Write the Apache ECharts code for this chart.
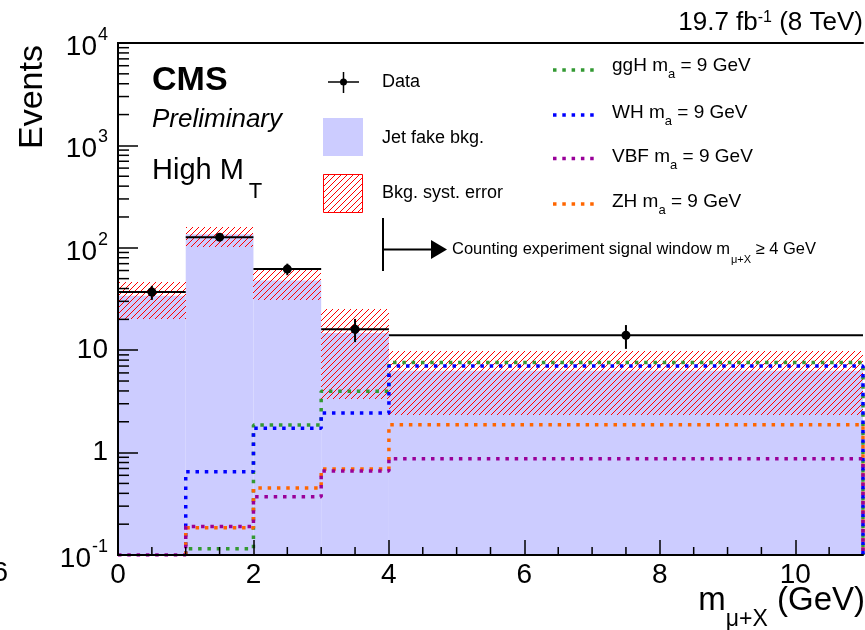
<!DOCTYPE html>
<html>
<head>
<meta charset="utf-8">
<script src="https://cdn.jsdelivr.net/npm/echarts@6/dist/echarts.min.js"></script>
<style>
  html, body { margin: 0; padding: 0; background: #fff; }
  #main { width: 865px; height: 630px; }
</style>
</head>
<body>
<div id="main"></div>
<script>
// bins in m(mu+X), GeV
var binEdges = [0, 1, 2, 3, 4, 11];

// observed data and its error bar
var dataVals = [37, 127, 62, 16, 14];
var dataLo = [31, 116, 54, 12, 10.3];
var dataHi = [42.5, 139, 70, 20.2, 17.6];

// jet fake background and its syst. band
var bkgVals = [34, 136, 48, 14.7, 6.3];
var bkgErrLo = [20, 102, 31, 3.35, 2.35];
var bkgErrHi = [46, 160, 62, 25, 9.8];

// signal expectations, m_a = 9 GeV
var ggH = [null, 0.115, 1.86, 3.97, 7.6];
var WH = [null, 0.65, 1.73, 2.44, 7.0];
var ZH = [null, 0.185, 0.45, 0.69, 1.87];
var VBF = [0.1, 0.19, 0.37, 0.66, 0.87];

var FONT = 'Liberation Sans, Arial, Helvetica, sans-serif';
var YMIN = 0.1;

// ROOT-like hatch: one pure red pixel per row on a 6px tile
var hc = document.createElement('canvas');
hc.width = 6; hc.height = 6;
var hctx = hc.getContext('2d');
var img = hctx.createImageData(6, 6);
for (var i = 0; i < 6; i++) {
  var o = ((5 - i) * 6 + i) * 4;
  img.data[o] = 255; img.data[o + 1] = 0; img.data[o + 2] = 0; img.data[o + 3] = 255;
}
hctx.putImageData(img, 0, 0);
var hatch = { image: hc, repeat: 'repeat' };

function stepPoints(vals) {
  var pts = [];
  var i0 = 0;
  while (vals[i0] == null) i0++;
  pts.push([binEdges[i0], YMIN]);
  for (var i = i0; i < vals.length; i++) pts.push([binEdges[i], vals[i]]);
  var last = binEdges[binEdges.length - 1];
  pts.push([last, vals[vals.length - 1]]);
  pts.push([last, YMIN]);
  return pts;
}

var bkgData = bkgVals.map(function (v, i) { return [binEdges[i], binEdges[i + 1], v]; });
var bandData = bkgErrLo.map(function (v, i) { return [binEdges[i], binEdges[i + 1], v, bkgErrHi[i]]; });
var obsData = dataVals.map(function (v, i) { return [binEdges[i], binEdges[i + 1], v, dataLo[i], dataHi[i]]; });

// minor ticks (ROOT style)
var yMinor = [];
for (var k = -1; k < 4; k++) for (var m = 2; m < 10; m++) yMinor.push([0, m * Math.pow(10, k)]);
var xMinor = [];
for (var x = 0.5; x < 11; x += 0.5) if (x % 2 !== 0) xMinor.push([x, YMIN]);

function sig(name, vals, color) {
  return {
    name: name, type: 'line', step: 'end', data: stepPoints(vals),
    showSymbol: false, symbol: 'none', silent: true, z: 4,
    lineStyle: { color: color, width: 3.5, type: [3.5, 5.8] }
  };
}

var chartDom = document.getElementById('main');
var myChart = echarts.init(chartDom);
var option;

option = {
  animation: false,
  grid: { left: 118, right: 2, top: 43, bottom: 75 },
  xAxis: [{
    type: 'value', min: 0, max: 11, interval: 2, z: 10,
    axisLine: { show: true, onZero: false, lineStyle: { color: '#000', width: 2 } },
    axisTick: { show: true, inside: true, length: 15, lineStyle: { color: '#000', width: 1.5 } },
    axisLabel: { color: '#000', fontSize: 28, fontFamily: FONT, margin: 6, showMaxLabel: false },
    splitLine: { show: false }
  }, {
    type: 'value', min: 0, max: 11, position: 'top', z: 10,
    axisLine: { show: true, onZero: false, lineStyle: { color: '#000', width: 2 } },
    axisTick: { show: false }, axisLabel: { show: false }, splitLine: { show: false }
  }],
  yAxis: [{
    type: 'log', logBase: 10, min: 0.1, max: 10000, z: 10,
    axisLine: { show: true, lineStyle: { color: '#000', width: 2 } },
    axisTick: { show: true, inside: true, length: 20, lineStyle: { color: '#000', width: 1.5 } },
    axisLabel: {
      color: '#000', fontFamily: FONT, margin: 10,
      formatter: function (v) {
        var e = Math.round(Math.log10(v));
        if (e === 0) return '{p|1}';
        if (e === 1) return '{p|10}';
        return '{b|10}{s|' + e + '}';
      },
      rich: {
        p: { fontSize: 28, fontFamily: FONT, color: '#000' },
        b: { fontSize: 28, fontFamily: FONT, color: '#000', padding: [8, 0, 0, 0] },
        s: { fontSize: 18, fontFamily: FONT, color: '#000', padding: [0, 0, 16, 1] }
      }
    },
    splitLine: { show: false }
  }, {
    type: 'log', logBase: 10, min: 0.1, max: 10000, position: 'right', z: 10,
    axisLine: { show: true, lineStyle: { color: '#000', width: 2 } },
    axisTick: { show: false }, axisLabel: { show: false }, splitLine: { show: false }
  }],
  series: [
    {
      name: 'Jet fake bkg.', type: 'custom', data: bkgData, z: 1, silent: true,
      encode: { x: [0, 1], y: 2 },
      renderItem: function (params, api) {
        var a = api.coord([api.value(0), api.value(2)]);
        var b = api.coord([api.value(1), YMIN]);
        return { type: 'rect', shape: { x: a[0], y: a[1], width: b[0] - a[0], height: b[1] - a[1] },
          style: { fill: '#ccccff' } };
      }
    },
    {
      name: 'Bkg. syst. error', type: 'custom', data: bandData, z: 2, silent: true,
      encode: { x: [0, 1], y: [2, 3] },
      renderItem: function (params, api) {
        var a = api.coord([api.value(0), api.value(3)]);
        var b = api.coord([api.value(1), api.value(2)]);
        return { type: 'rect', shape: { x: Math.round(a[0]), y: Math.round(a[1]),
          width: Math.round(b[0]) - Math.round(a[0]), height: Math.round(b[1]) - Math.round(a[1]) },
          style: { fill: hatch } };
      }
    },
    sig('ggH', ggH, '#339933'),
    sig('WH', WH, '#0000ff'),
    sig('ZH', ZH, '#ff6600'),
    sig('VBF', VBF, '#990099'),
    {
      name: 'Data', type: 'custom', data: obsData, z: 6, silent: true,
      encode: { x: [0, 1], y: [2, 3, 4] },
      renderItem: function (params, api) {
        var x0 = api.value(0), x1 = api.value(1), v = api.value(2);
        var xc = (x0 + x1) / 2;
        var pl = api.coord([x0, v]), pr = api.coord([x1, v]), pc = api.coord([xc, v]);
        var plo = api.coord([xc, api.value(3)]), phi = api.coord([xc, api.value(4)]);
        return { type: 'group', children: [
          { type: 'line', shape: { x1: pl[0], y1: pl[1], x2: pr[0], y2: pr[1] }, style: { stroke: '#000', lineWidth: 2 } },
          { type: 'line', shape: { x1: plo[0], y1: plo[1], x2: phi[0], y2: phi[1] }, style: { stroke: '#000', lineWidth: 2 } },
          { type: 'circle', shape: { cx: pc[0], cy: pc[1], r: 4.5 }, style: { fill: '#000' } }
        ] };
      }
    },
    {
      type: 'custom', data: yMinor, z: 10, silent: true,
      renderItem: function (params, api) {
        var p = api.coord([0, api.value(1)]);
        return { type: 'line', shape: { x1: p[0], y1: p[1], x2: p[0] + 11, y2: p[1] }, style: { stroke: '#000', lineWidth: 1.5 } };
      }
    },
    {
      type: 'custom', data: xMinor, z: 10, silent: true,
      renderItem: function (params, api) {
        var p = api.coord([api.value(0), YMIN]);
        return { type: 'line', shape: { x1: p[0], y1: p[1], x2: p[0], y2: p[1] - 8 }, style: { stroke: '#000', lineWidth: 1.5 } };
      }
    }
  ],
  graphic: [
    { type: 'text', x: 33, y: 97, rotation: Math.PI / 2,
      style: { text: 'Events', fontSize: 34, fontFamily: FONT, fill: '#000', align: 'center', verticalAlign: 'middle' } },
    { type: 'text', x: 863, y: 23,
      style: { text: '{a|19.7 fb}{s|-1}{a| (8 TeV)}', align: 'right', verticalAlign: 'middle',
        rich: { a: { fontSize: 26, fontFamily: FONT, fill: '#000' },
                s: { fontSize: 16, fontFamily: FONT, fill: '#000', padding: [0, 0, 11, 0] } } } },
    { type: 'text', x: 865, y: 601,
      style: { text: '{a|m}{s|\u03bc+X}{a| (GeV)}', align: 'right', verticalAlign: 'middle',
        rich: { a: { fontSize: 33, fontFamily: FONT, fill: '#000' },
                s: { fontSize: 23, fontFamily: FONT, fill: '#000', padding: [38, 0, 0, 0] } } } },
    { type: 'text', x: 8, y: 573,
      style: { text: '6', fontSize: 28, fontFamily: FONT, fill: '#000', align: 'right', verticalAlign: 'middle' } },
    { type: 'text', x: 152, y: 81,
      style: { text: 'CMS', fontSize: 34, fontWeight: 'bold', fontFamily: FONT, fill: '#000', verticalAlign: 'middle' } },
    { type: 'text', x: 152, y: 120,
      style: { text: 'Preliminary', fontSize: 26, fontStyle: 'italic', fontFamily: FONT, fill: '#000', verticalAlign: 'middle' } },
    { type: 'text', x: 152, y: 171,
      style: { text: '{a|High M}{s|T}', verticalAlign: 'middle',
        rich: { a: { fontSize: 29, fontFamily: FONT, fill: '#000' },
                s: { fontSize: 22, fontFamily: FONT, fill: '#000', padding: [42, 0, 0, 5] } } } },

    // legend, left column
    { type: 'line', shape: { x1: 328, y1: 82, x2: 359, y2: 82 }, style: { stroke: '#000', lineWidth: 1.5 } },
    { type: 'line', shape: { x1: 343.5, y1: 72, x2: 343.5, y2: 93 }, style: { stroke: '#000', lineWidth: 1.5 } },
    { type: 'circle', shape: { cx: 343.5, cy: 82, r: 3.5 }, style: { fill: '#000' } },
    { type: 'text', x: 382, y: 82, style: { text: 'Data', fontSize: 18, fontFamily: FONT, fill: '#000', verticalAlign: 'middle' } },
    { type: 'rect', shape: { x: 323, y: 118, width: 40, height: 38 }, style: { fill: '#ccccff' } },
    { type: 'text', x: 382, y: 138, style: { text: 'Jet fake bkg.', fontSize: 18, fontFamily: FONT, fill: '#000', verticalAlign: 'middle' } },
    { type: 'rect', shape: { x: 323.5, y: 174.5, width: 39, height: 38 }, style: { fill: hatch, stroke: '#ff0000', lineWidth: 1 } },
    { type: 'text', x: 382, y: 193, style: { text: 'Bkg. syst. error', fontSize: 18, fontFamily: FONT, fill: '#000', verticalAlign: 'middle' } },

    // signal window arrow
    { type: 'line', shape: { x1: 383, y1: 218, x2: 383, y2: 271 }, style: { stroke: '#000', lineWidth: 2 } },
    { type: 'line', shape: { x1: 383, y1: 249.5, x2: 434, y2: 249.5 }, style: { stroke: '#000', lineWidth: 2 } },
    { type: 'polygon', shape: { points: [[431, 240], [447, 249.5], [431, 259]] }, style: { fill: '#000' } },
    { type: 'text', x: 452, y: 249,
      style: { text: '{a|Counting experiment signal window m}{s|\u03bc+X}{a| \u2265 4 GeV}', verticalAlign: 'middle',
        rich: { a: { fontSize: 16.5, fontFamily: FONT, fill: '#000' },
                s: { fontSize: 11, fontFamily: FONT, fill: '#000', padding: [22, 0, 0, 1] } } } },

    // legend, right column
    { type: 'line', shape: { x1: 553, y1: 70, x2: 594, y2: 70 }, style: { stroke: '#339933', lineWidth: 3.5, lineDash: [3.5, 5.8] } },
    { type: 'line', shape: { x1: 553, y1: 115, x2: 594, y2: 115 }, style: { stroke: '#0000ff', lineWidth: 3.5, lineDash: [3.5, 5.8] } },
    { type: 'line', shape: { x1: 553, y1: 158.5, x2: 594, y2: 158.5 }, style: { stroke: '#990099', lineWidth: 3.5, lineDash: [3.5, 5.8] } },
    { type: 'line', shape: { x1: 553, y1: 204, x2: 594, y2: 204 }, style: { stroke: '#ff6600', lineWidth: 3.5, lineDash: [3.5, 5.8] } }
  ]
};

var sigNames = ['ggH', 'WH', 'VBF', 'ZH'];
var sigY = [66, 113, 157, 202];
sigNames.forEach(function (n, i) {
  option.graphic.push({ type: 'text', x: 612, y: sigY[i],
    style: { text: '{a|' + n + ' m}{s|a}{a| = 9 GeV}', verticalAlign: 'middle',
      rich: { a: { fontSize: 19, fontFamily: FONT, fill: '#000' },
              s: { fontSize: 13, fontFamily: FONT, fill: '#000', padding: [16, 0, 0, 0] } } } });
});

option && myChart.setOption(option);
</script>
</body>
</html>
